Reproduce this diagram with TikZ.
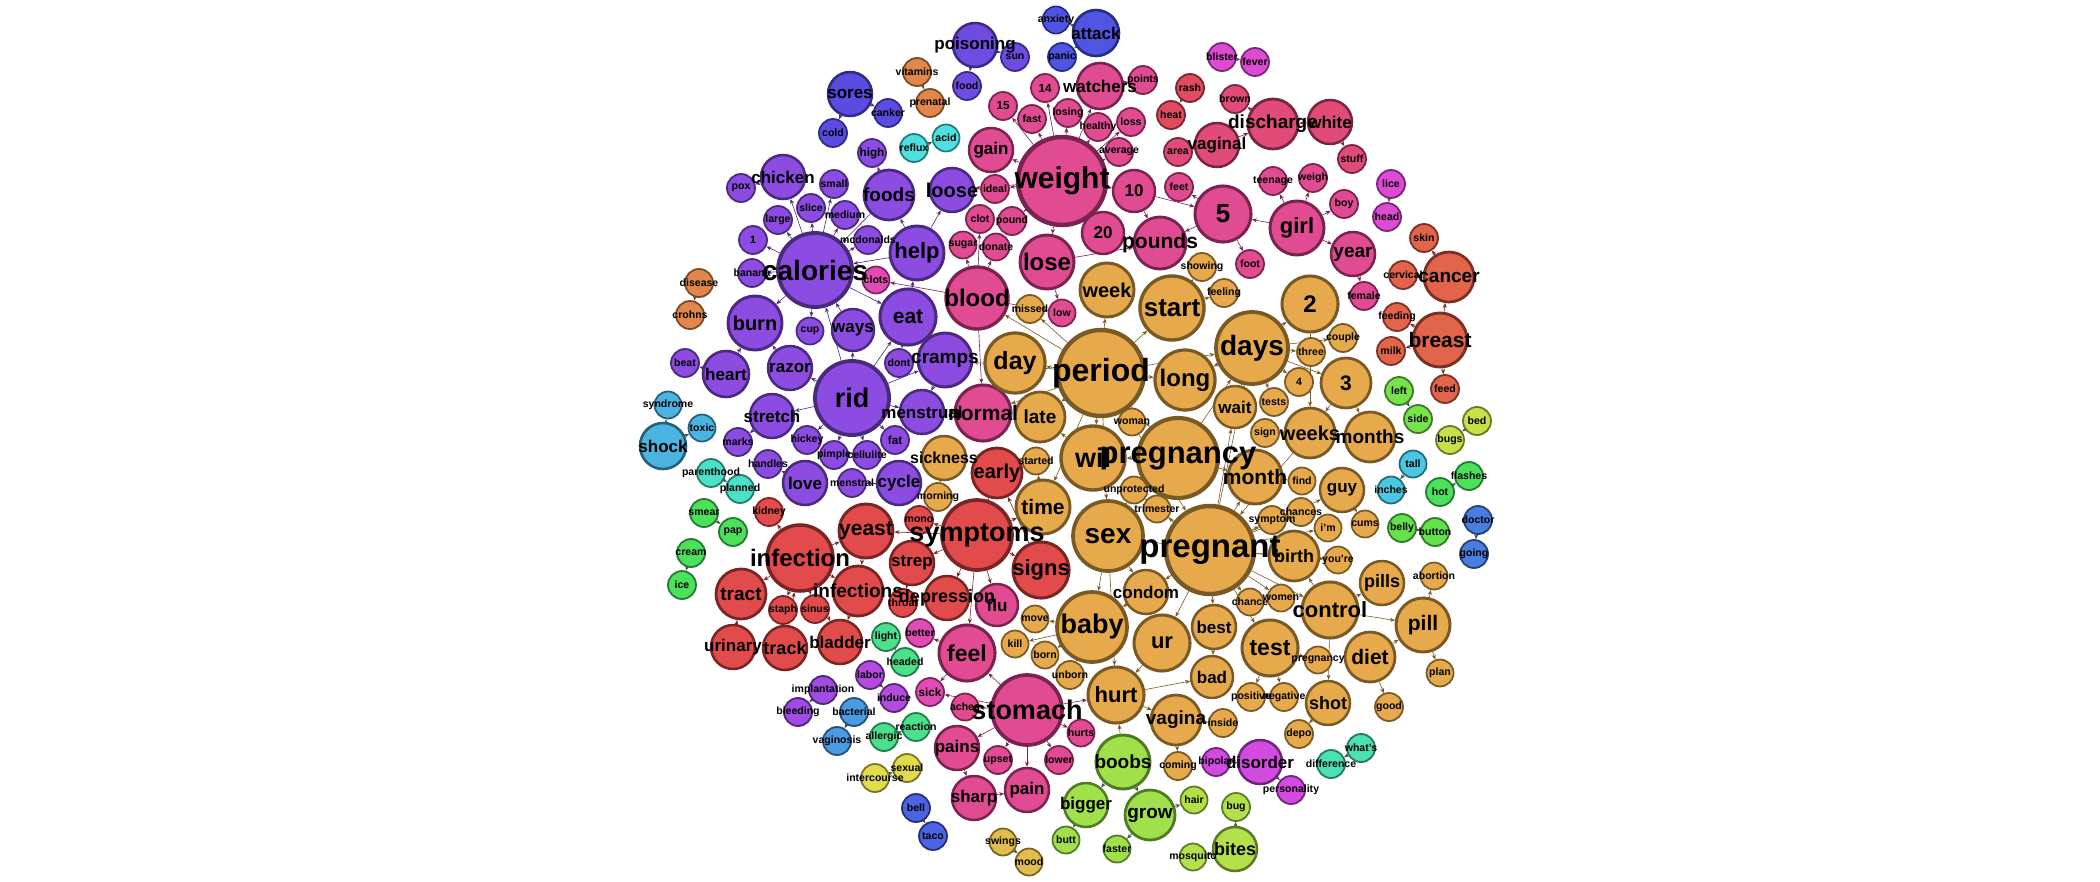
\documentclass[tikz,border=0pt]{standalone}
\usepackage{fontspec}
\setmainfont{Liberation Sans}
\usetikzlibrary{arrows.meta}
\pgfdeclarelayer{back}\pgfdeclarelayer{edges}
\pgfsetlayers{back,edges,main}
\definecolor{cP}{HTML}{8C4BE1}\definecolor{bP}{HTML}{4A2A7F}
\definecolor{cM}{HTML}{E14B91}\definecolor{bM}{HTML}{7A2350}
\definecolor{cO}{HTML}{E6A94B}\definecolor{bO}{HTML}{7A5A24}
\definecolor{cR}{HTML}{E14B4B}\definecolor{bR}{HTML}{7A2424}
\definecolor{cBlue}{HTML}{4F55E1}\definecolor{bBlue}{HTML}{272C85}
\definecolor{cInd}{HTML}{6E4BE1}\definecolor{bInd}{HTML}{3A2A85}
\definecolor{cSor}{HTML}{5A4BE1}\definecolor{bSor}{HTML}{2E2A85}
\definecolor{cOr}{HTML}{E1874B}\definecolor{bOr}{HTML}{7A4A24}
\definecolor{cCy}{HTML}{4BE1E1}\definecolor{bCy}{HTML}{247A7A}
\definecolor{cSh}{HTML}{4BB4E1}\definecolor{bSh}{HTML}{24607A}
\definecolor{cTe}{HTML}{4BE1C8}\definecolor{bTe}{HTML}{247A6A}
\definecolor{cCa}{HTML}{E1644B}\definecolor{bCa}{HTML}{7A3024}
\definecolor{cRa}{HTML}{E14B5F}\definecolor{bRa}{HTML}{7A2430}
\definecolor{cVa}{HTML}{E14B78}\definecolor{bVa}{HTML}{7A2440}
\definecolor{cMa}{HTML}{DC4BD2}\definecolor{bMa}{HTML}{7A247A}
\definecolor{cDi}{HTML}{D24BE1}\definecolor{bDi}{HTML}{70247A}
\definecolor{cLa}{HTML}{B44BE1}\definecolor{bLa}{HTML}{5A247A}
\definecolor{cIm}{HTML}{A04BE1}\definecolor{bIm}{HTML}{50247A}
\definecolor{cPk}{HTML}{E14BB4}\definecolor{bPk}{HTML}{7A2460}
\definecolor{cLe}{HTML}{78E14B}\definecolor{bLe}{HTML}{3C7A24}
\definecolor{cBe}{HTML}{C8E14B}\definecolor{bBe}{HTML}{6A7A24}
\definecolor{cBi}{HTML}{B4E14B}\definecolor{bBi}{HTML}{5A7A24}
\definecolor{cBo}{HTML}{A0E14B}\definecolor{bBo}{HTML}{507A24}
\definecolor{cBu}{HTML}{64E14B}\definecolor{bBu}{HTML}{307A24}
\definecolor{cHo}{HTML}{4BE15A}\definecolor{bHo}{HTML}{247A30}
\definecolor{cLi}{HTML}{4BE18C}\definecolor{bLi}{HTML}{247A4A}
\definecolor{cWh}{HTML}{4BE1B4}\definecolor{bWh}{HTML}{247A60}
\definecolor{cTa}{HTML}{4BC8E1}\definecolor{bTa}{HTML}{24687A}
\definecolor{cDo}{HTML}{4B7DE1}\definecolor{bDo}{HTML}{24407A}
\definecolor{cBl}{HTML}{4B64E1}\definecolor{bBl}{HTML}{24307A}
\definecolor{cBa}{HTML}{4B9BE1}\definecolor{bBa}{HTML}{24507A}
\definecolor{cIn}{HTML}{E1DC4B}\definecolor{bIn}{HTML}{7A7524}
\definecolor{cSw}{HTML}{E1BE4B}\definecolor{bSw}{HTML}{7A6024}
\tikzset{
 bub/.style={circle,inner sep=0pt},
 lbl/.style={inner sep=0pt,text=black},
 g/.style={fill=c#1,draw=b#1},
 e/.style={line width=0.6pt,-{Stealth[length=5pt,width=4pt]}},
 ep/.style={e,draw=bP},
 em/.style={e,draw=bM},
 eo/.style={e,draw=bO},
 er/.style={e,draw=bR},
 eg/.style={e,draw=black!70},
}
% name / x / y / diameter / font size / colour group / text
\def\nodelist{%
calories/815/270/74/28/P/calories,
rid/852/398/74/27/P/rid,
chicken/783/177/44/17/P/chicken,
pox/741/188/28/9/P/pox,
small/834/184/28/9/P/small,
slice/811/208/28/9/P/slice,
large/778/220/28/9/P/large,
medium/845/215/28/9/P/medium,
foods/889/195/50/19/P/foods,
high/872/153/28/10/P/high,
loose/952/190/44/20/P/loose,
n1/753/240/28/9/P/1,
mcdonalds/868/240/28/9/P/mcdonalds,
banana/752/273/28/9/P/banana,
help/917/253/54/22/P/help,
burn/755/323/54/20/P/burn,
cup/810/331/27/9/P/cup,
ways/853/330/42/17/P/ways,
eat/908/317/56/21/P/eat,
beat/685/363/28/9/P/beat,
heart/726/374/46/17/P/heart,
razor/790/368/44/17/P/razor,
dont/899/363/28/9/P/dont,
cramps/945/360/54/19/P/cramps,
stretch/772/416/44/17/P/stretch,
menstrual/922/412/44/17/P/menstrual,
marks/738/442/28/9/P/marks,
hickey/807/440/28/9/P/hickey,
fat/895/440/28/10/P/fat,
handles/768/464/28/9/P/handles,
pimple/834/455/28/9/P/pimple,
cellulite/867/455/28/9/P/cellulite,
love/805/483/44/17/P/love,
menstral/852/483/28/9/P/menstral,
cycle/899/483/44/17/P/cycle,
poisoning/975/45/44/17/Ind/poisoning,
food/967/86/28/9/Ind/food,
sun/1015/57/28/9/Ind/sun,
attack/1096/33/46/17/Blue/attack,
anxiety/1056/20/27/9/Blue/anxiety,
panic/1062/57/28/9/Blue/panic,
sores/850/94/44/17/Sor/sores,
canker/888/113/28/9/Sor/canker,
cold/833/133/28/9/Sor/cold,
vitamins/917/72/28/9/Or/vitamins,
prenatal/930/103/28/9/Or/prenatal,
disease/699/283/28/9/Or/disease,
crohns/690/315/28/9/Or/crohns,
reflux/914/148/28/9/Cy/reflux,
acid/946/138/27/9/Cy/acid,
shock/663/446/46/17/Sh/shock,
syndrome/668/405/27/9/Sh/syndrome,
toxic/702/428/27/9/Sh/toxic,
parenthood/711/473/28/9/Te/parenthood,
planned/740/489/28/9/Te/planned,
smear/704/513/28/9/Ho/smear,
pap/733/532/28/9/Ho/pap,
cream/691/553/28/9/Ho/cream,
ice/682/585/28/9/Ho/ice,
weight/1062/181/88/30/M/weight,
gain/991/150/44/17/M/gain,
n15/1003/106/28/10/M/15,
fast/1032/119/28/9/M/fast,
n14/1045/88/28/10/M/14,
losing/1068/113/28/9/M/losing,
watchers/1100/86/46/17/M/watchers,
points/1143/80/28/9/M/points,
healthy/1098/127/28/9/M/healthy,
loss/1131/122/28/9/M/loss,
average/1119/152/28/9/M/average,
ideal/995/189/28/9/M/ideal,
clot/980/219/28/9/M/clot,
pound/1012/221/28/9/M/pound,
n10/1134/191/42/17/M/10,
n20/1103/233/42/17/M/20,
feet/1179/187/28/9/M/feet,
n5/1223/214/56/26/M/5,
lose/1047/262/54/24/M/lose,
pounds/1160/243/52/21/M/pounds,
sugar/963/245/27/9/M/sugar,
donate/996/247/27/9/M/donate,
blood/977/298/62/24/M/blood,
clots/876/280/27/9/Pk/clots,
low/1062/313/27/9/M/low,
normal/983/413/56/21/M/normal,
girl/1297/228/54/22/M/girl,
teenage/1273/181/28/9/M/teenage,
weigh/1313/178/28/9/M/weigh,
boy/1344/204/28/9/M/boy,
year/1353/254/44/19/M/year,
female/1364/296/28/9/M/female,
foot/1250/264/28/9/M/foot,
vaginal/1217/145/44/17/Va/vaginal,
discharge/1273/124/50/19/Va/discharge,
white/1330/122/44/17/Va/white,
stuff/1352/159/28/9/Va/stuff,
brown/1235/99/28/9/Va/brown,
area/1178/152/28/9/Va/area,
rash/1190/88/28/9/Ra/rash,
heat/1171/115/28/9/Ra/heat,
blister/1222/57/28/9/Ma/blister,
fever/1255/62/28/9/Ma/fever,
lice/1391/184/28/9/Ma/lice,
head/1387/217/28/9/Ma/head,
stomach/1027/710/70/27/M/stomach,
aches/965/707/27/9/M/aches,
sick/930/692/28/10/Pk/sick,
hurts/1081/733/27/9/M/hurts,
pains/957/748/44/17/M/pains,
upset/998/760/28/9/M/upset,
lower/1059/760/28/9/M/lower,
pain/1027/790/44/17/M/pain,
sharp/974/798/44/17/M/sharp,
feel/967/653/56/23/M/feel,
flu/997/605/42/17/M/flu,
better/920/633/28/9/Pk/better,
infection/800/558/66/24/R/infection,
yeast/866/531/54/21/R/yeast,
mono/919/520/28/9/R/mono,
strep/912/563/44/17/R/strep,
tract/741/594/50/19/R/tract,
infections/858/591/50/19/R/infections,
staph/783/610/28/9/R/staph,
sinus/815/609/28/9/R/sinus,
throat/903/603/28/9/R/throat,
depression/947/598/44/18/R/depression,
urinary/733/647/44/17/R/urinary,
track/785/648/44/18/R/track,
bladder/840/642/44/17/R/bladder,
kidney/769/512/28/9/R/kidney,
symptoms/977/535/70/27/R/symptoms,
early/997/473/50/20/R/early,
signs/1041/570/56/22/R/signs,
skin/1424/238/28/9/Ca/skin,
cervical/1403/275/28/9/Ca/cervical,
cancer/1449/277/50/19/Ca/cancer,
feeding/1397/317/28/9/Ca/feeding,
breast/1440/340/54/21/Ca/breast,
milk/1391/351/28/9/Ca/milk,
feed/1445/389/28/9/Ca/feed,
day/1015/363/60/25/O/day,
late/1040/417/50/19/O/late,
missed/1030/309/28/9/O/missed,
week/1107/290/54/20/O/week,
start/1172/308/64/26/O/start,
showing/1202/267/28/9/O/showing,
feeling/1224/293/28/9/O/feeling,
long/1185/380/60/24/O/long,
woman/1132/422/27/9/O/woman,
wait/1235/407/42/17/O/wait,
days/1252/348/72/28/O/days,
n2/1310/304/56/24/O/2,
couple/1343/338/28/9/O/couple,
three/1311/352/28/9/O/three,
n4/1299/382/28/9/O/4,
n3/1346/383/50/21/O/3,
tests/1274/402/28/9/O/tests,
sign/1265/433/28/9/O/sign,
weeks/1310/433/50/20/O/weeks,
months/1370/437/50/19/O/months,
month/1255/477/54/21/O/month,
find/1302/481/27/9/O/find,
guy/1342/490/44/17/O/guy,
chances/1301/512/28/9/O/chances,
symptom/1272/520/28/9/O/symptom,
im/1328/528/27/9/O/i'm,
cums/1365/524/27/9/O/cums,
birth/1294/556/50/18/O/birth,
youre/1338/560/27/9/O/you're,
pills/1382/583/44/18/O/pills,
abortion/1434/576/27/9/O/abortion,
chance/1250/602/27/9/O/chance,
women/1281/598/27/9/O/women,
control/1330/610/56/22/O/control,
pill/1423/625/54/21/O/pill,
test/1270/648/56/23/O/test,
pregsm/1318/660/27/9/O/pregnancy,
diet/1370/657/50/21/O/diet,
plan/1440/673/27/9/O/plan,
positive/1251/697/28/9/O/positive,
negative/1284/697/28/9/O/negative,
shot/1328/703/44/18/O/shot,
good/1389/707/28/9/O/good,
inside/1223/723/28/9/O/inside,
depo/1299/734/28/9/O/depo,
best/1214/627/44/17/O/best,
bad/1212/677/42/17/O/bad,
ur/1162/643/56/22/O/ur,
vagina/1176/720/50/19/O/vagina,
coming/1178/766/28/9/O/coming,
hurt/1116/695/56/22/O/hurt,
unborn/1070/675/28/9/O/unborn,
condom/1146/592/44/17/O/condom,
unprotected/1134/490/27/9/O/unprotected,
trimester/1157/509/27/9/O/trimester,
started/1036/461/27/9/O/started,
time/1043/507/54/21/O/time,
sickness/944/458/44/16/O/sickness,
morning/938/497/28/9/O/morning,
move/1035/619/27/9/O/move,
kill/1015/644/27/9/O/kill,
born/1045/655/27/9/O/born,
will/1093/458/64/27/O/wil,
sex/1108/536/70/28/O/sex,
baby/1092/627/70/27/O/baby,
period/1101/373/86/32/O/period,
pregnancy/1178/458/80/31/O/pregnancy,
pregnant/1210/550/88/33/O/pregnant,
boobs/1123/762/54/19/Bo/boobs,
bigger/1086/805/44/17/Bo/bigger,
grow/1150/815/50/19/Bo/grow,
butt/1066/840/27/9/Bo/butt,
faster/1117/849/27/9/Bo/faster,
hair/1194/800/27/9/Bi/hair,
mosquito/1193/857/27/9/Bi/mosquito,
bug/1236/807/28/9/Bi/bug,
bites/1235/849/44/18/Bi/bites,
left/1399/391/28/9/Le/left,
side/1418/419/28/9/Le/side,
bed/1477/421/28/9/Be/bed,
bugs/1450/440/28/9/Be/bugs,
tall/1413/464/27/9/Ta/tall,
inches/1391/490/27/9/Ta/inches,
hot/1440/492/28/9/Ho/hot,
flashes/1469/476/28/9/Ho/flashes,
belly/1402/528/28/9/Bu/belly,
button/1435/532/28/9/Bu/button,
doctor/1478/520/28/9/Do/doctor,
going/1474/554/28/9/Do/going,
disorder/1260/762/44/17/Di/disorder,
personality/1291/790/28/9/Di/personality,
bipolar/1216/762/28/9/Di/bipolar,
whats/1361/748/28/9/Wh/what's,
difference/1331/764/28/9/Wh/difference,
light/886/637/28/9/Li/light,
headed/905/662/28/9/Li/headed,
reaction/916/727/28/9/Li/reaction,
allergic/884/737/28/9/Li/allergic,
labor/870/675/28/9/La/labor,
induce/894/698/28/9/La/induce,
implantation/823/690/28/9/Im/implantation,
bleeding/798/712/28/9/Im/bleeding,
bacterial/854/712/28/9/Ba/bacterial,
vaginosis/837/741/28/9/Ba/vaginosis,
intercourse/875/778/28/9/In/intercourse,
sexual/907/768/28/9/In/sexual,
bell/916/808/28/9/Bl/bell,
taco/933/836/28/9/Bl/taco,
swings/1003/842/27/9/Sw/swings,
mood/1029/862/27/9/Sw/mood}
\begin{document}
\begin{tikzpicture}[x=1pt,y=-1pt]
\begin{pgfonlayer}{back}
\fill[white] (0,0) rectangle (2100,881);
\end{pgfonlayer}
\useasboundingbox (0,0) rectangle (2100,881);
% circles first
\foreach \nm/\px/\py/\dd/\fs/\cl/\tx in \nodelist {
  \node[bub,g/.expand once=\cl,minimum size=\dd,line width={0.5+\dd/22}] (\nm) at (\px,\py) {};
}
% labels on top of every circle
\foreach \nm/\px/\py/\dd/\fs/\cl/\tx in \nodelist {
  \pgfmathsetmacro\ff{\fs<12 ? \fs*1.17 : \fs}
  \node[lbl,font=\fontsize{\ff}{\ff}\selectfont\bfseries] (\nm-t) at (\nm) {\tx};
}
% connectors
\begin{pgfonlayer}{edges}
\foreach \a/\b in {calories/chicken,chicken/pox,calories/slice,calories/large,calories/medium,calories/small,calories/n1,calories/banana,calories/mcdonalds,calories/cup,calories/burn,foods/high,foods/calories,help/loose,help/foods,rid/ways,ways/calories,rid/calories,rid/razor,razor/burn,heart/burn,heart/beat,rid/stretch,stretch/marks,rid/hickey,rid/pimple,rid/cellulite,rid/fat,rid/menstrual,love/handles,cycle/menstral,eat/dont,rid/eat,eat/help,cramps/menstrual,rid/cramps,help/calories,sores/cold,sores/canker,poisoning/food,poisoning/sun,calories/eat}
  \draw[ep] (\a) -- (\b);
\foreach \a/\b in {attack/anxiety,attack/panic,vitamins/prenatal,reflux/acid,disease/crohns,shock/syndrome,shock/toxic,parenthood/planned,smear/pap,cream/ice,boobs/bigger,boobs/grow,grow/faster,grow/hair,bigger/butt,bites/bug,bites/mosquito,left/side,bed/bugs,hot/flashes,belly/button,doctor/going,tall/inches,bell/taco,swings/mood,intercourse/sexual,implantation/bleeding,labor/induce,bacterial/vaginosis,allergic/reaction,light/headed,disorder/personality,disorder/bipolar,whats/difference,lice/head,blister/fever,rash/heat}
  \draw[eg] (\a) -- (\b);
\foreach \a/\b in {weight/gain,weight/n15,weight/fast,weight/n14,weight/losing,weight/healthy,weight/loss,weight/average,weight/watchers,weight/ideal,weight/n10,weight/n20,weight/lose,weight/pound,weight/loose,watchers/points,n20/pounds,n10/pounds,n5/pounds,n10/n5,n5/feet,n5/foot,girl/n5,girl/teenage,girl/weigh,girl/boy,girl/year,year/female,blood/clot,blood/sugar,blood/donate,blood/clots,blood/low,lose/low,lose/pounds,vaginal/area,vaginal/discharge,discharge/brown,white/discharge,white/stuff,stomach/aches,stomach/sick,stomach/hurts,stomach/pains,stomach/upset,stomach/lower,stomach/pain,stomach/feel,pains/sharp,sharp/pain,feel/better,feel/sick,stomach/hurt,blood/normal}
  \draw[em] (\a) -- (\b);
\foreach \a/\b in {infection/yeast,infection/infections,infection/tract,infection/staph,infection/sinus,infection/kidney,infection/bladder,urinary/tract,track/infection,symptoms/yeast,symptoms/mono,symptoms/early,symptoms/strep,strep/throat,symptoms/depression,symptoms/flu,symptoms/signs,symptoms/feel,infections/bladder,symptoms/time,signs/early,yeast/infections,breast/cancer,cancer/skin,cancer/cervical,breast/feeding,breast/milk,breast/feed}
  \draw[er] (\a) -- (\b);
\foreach \a/\b in {period/day,period/late,period/long,period/start,period/week,period/missed,period/normal,period/woman,period/days,period/will,period/blood,period/cramps,period/pregnant,period/pregnancy,period/sex,start/showing,start/feeling,days/n2,days/three,days/n4,days/n3,days/couple,days/wait,days/tests,n2/weeks,n3/months,n3/weeks,weeks/sign,pregnant/month,pregnant/chances,pregnant/symptom,pregnant/birth,pregnant/chance,pregnant/women,pregnant/test,pregnant/best,pregnant/ur,pregnant/sex,pregnant/baby,pregnant/condom,pregnant/trimester,pregnant/unprotected,pregnant/control,pregnant/im,pregnant/youre,pregnant/guy,pregnant/wait,pregnant/days,month/find,pregnancy/will,pregnancy/month,pregnancy/trimester,pregnancy/days,guy/cums,control/pills,control/pill,control/birth,diet/pill,pill/abortion,pill/plan,diet/good,shot/depo,control/shot,test/positive,test/negative,test/pregsm,hurt/bad,hurt/vagina,vagina/inside,vagina/coming,boobs/hurt,baby/move,baby/kill,baby/born,baby/unborn,sex/condom,sex/unprotected,will/late,time/started,early/started,sickness/morning,period/time,sex/baby,sex/hurt,ur/hurt,best/bad,weeks/pregnant,days/long}
  \draw[eo] (\a) -- (\b);
\end{pgfonlayer}
\end{tikzpicture}
\end{document}
